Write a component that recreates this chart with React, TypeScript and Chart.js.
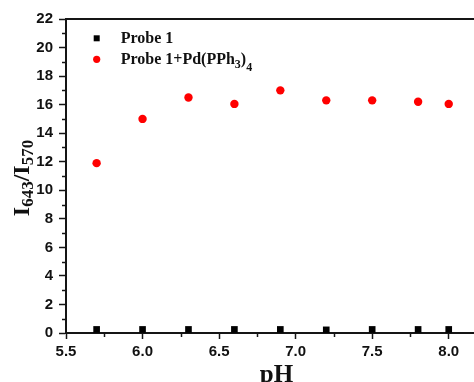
import React, { useEffect, useRef } from 'react';
import { Chart, registerables } from 'chart.js';

Chart.register(...registerables);

// ---- data ----
const phValues = [5.7, 6.0, 6.3, 6.6, 6.9, 7.2, 7.5, 7.8, 8.0];
const probeValues = [0.25, 0.25, 0.25, 0.25, 0.25, 0.22, 0.25, 0.25, 0.25];
const probePdValues = [11.9, 15.0, 16.5, 16.05, 17.0, 16.3, 16.3, 16.2, 16.05];
const seriesLabels = ['Probe 1', 'Probe 1+Pd(PPh_{3})__{4}'];
const seriesColors = ['#000000', '#ff0000'];
const seriesShapes = ['rect', 'circle'];
const xTitle = 'pH';
const yTitle = 'I_{643}/I_{570}';
const xRange = [5.5, 8.25];
const yRange = [0, 22];
const xSteps = [0.5, 0.25];
const ySteps = [2, 1];

type Seg = { t: string; sub: number };

function parseRich(s: string): Seg[] {
  const segs: Seg[] = [];
  const re = /(__?)\{([^}]*)\}/g;
  let last = 0;
  let m: RegExpExecArray | null;
  while ((m = re.exec(s))) {
    if (m.index > last) segs.push({ t: s.slice(last, m.index), sub: 0 });
    segs.push({ t: m[2], sub: m[1].length });
    last = re.lastIndex;
  }
  if (last < s.length) segs.push({ t: s.slice(last), sub: 0 });
  return segs;
}

function drawRich(
  ctx: CanvasRenderingContext2D,
  text: string,
  x: number,
  y: number,
  size: number,
  subSize: number,
  subShift: number,
  align: 'left' | 'center'
) {
  const segs = parseRich(text);
  const fontFor = (s: Seg) => `bold ${s.sub ? subSize : size}px "Liberation Serif", "Times New Roman", serif`;
  let total = 0;
  const widths = segs.map((s) => {
    ctx.font = fontFor(s);
    const w = ctx.measureText(s.t).width;
    total += w;
    return w;
  });
  let cx = align === 'center' ? x - total / 2 : x;
  ctx.textAlign = 'left';
  ctx.textBaseline = 'alphabetic';
  segs.forEach((s, i) => {
    ctx.font = fontFor(s);
    ctx.fillText(s.t, cx, y + s.sub * subShift);
    cx += widths[i];
  });
}

const decorPlugin = {
  id: 'decor',
  afterDraw(chart: any) {
    const { ctx, chartArea } = chart;
    const xs = chart.scales.x;
    const ys = chart.scales.y;
    ctx.save();
    ctx.strokeStyle = '#151515';
    // top frame
    ctx.lineWidth = 2;
    ctx.beginPath();
    ctx.moveTo(chartArea.left - 1, chartArea.top);
    ctx.lineTo(chartArea.right, chartArea.top);
    ctx.stroke();
    // minor ticks
    ctx.lineWidth = 1.5;
    for (let v = yRange[0] + ySteps[1]; v < yRange[1]; v += ySteps[0]) {
      const py = Math.round(ys.getPixelForValue(v)) + 0.5;
      ctx.beginPath();
      ctx.moveTo(chartArea.left - 4, py);
      ctx.lineTo(chartArea.left, py);
      ctx.stroke();
    }
    for (let v = xRange[0] + xSteps[1]; v <= xRange[1] + 1e-9; v += xSteps[0]) {
      const px = Math.round(xs.getPixelForValue(v)) + 0.5;
      ctx.beginPath();
      ctx.moveTo(px, chartArea.bottom);
      ctx.lineTo(px, chartArea.bottom + 4);
      ctx.stroke();
    }
    // legend
    const lx = chartArea.left + 30.7;
    const rowY = [chartArea.top + 19.3, chartArea.top + 40.3];
    const baseY = [chartArea.top + 24.3, chartArea.top + 45];
    seriesLabels.forEach((label, i) => {
      ctx.fillStyle = seriesColors[i];
      if (seriesShapes[i] === 'rect') {
        ctx.fillRect(lx - 3, rowY[i] - 3, 6, 6);
      } else {
        ctx.beginPath();
        ctx.arc(lx, rowY[i], 3.6, 0, Math.PI * 2);
        ctx.fill();
      }
      ctx.fillStyle = '#111';
      drawRich(ctx, label, chartArea.left + 54.7, baseY[i], 16, 12, 3.5, 'left');
    });
    // y title
    ctx.save();
    ctx.translate(29, (chartArea.top + chartArea.bottom) / 2 + 2);
    ctx.rotate(-Math.PI / 2);
    ctx.fillStyle = '#111';
    drawRich(ctx, yTitle, 0, 0, 24, 17, 4, 'center');
    ctx.restore();
    // x title
    ctx.fillStyle = '#111';
    drawRich(ctx, xTitle, (chartArea.left + chartArea.right) / 2, 382, 25, 17, 4, 'center');
    ctx.restore();
  },
};

export default function App() {
  const ref = useRef<HTMLCanvasElement>(null);
  useEffect(() => {
    if (!ref.current) return;
    const tickFont = { family: '"Liberation Sans", Arial, sans-serif', size: 15, weight: 'bold' as const };
    const chart = new Chart(ref.current, {
      type: 'scatter',
      data: {
        datasets: [
          {
            label: seriesLabels[0],
            data: phValues.map((x, i) => ({ x, y: probeValues[i] })),
            backgroundColor: seriesColors[0],
            borderColor: seriesColors[0],
            borderWidth: 0,
            pointStyle: seriesShapes[0] as any,
            pointRadius: 4.7,
          },
          {
            label: seriesLabels[1],
            data: phValues.map((x, i) => ({ x, y: probePdValues[i] })),
            backgroundColor: seriesColors[1],
            borderColor: seriesColors[1],
            borderWidth: 0,
            pointStyle: seriesShapes[1] as any,
            pointRadius: 4.2,
          },
        ],
      },
      options: {
        animation: false,
        responsive: false,
        devicePixelRatio: 1,
        layout: { padding: { top: 19, right: 9, left: 0, bottom: 0 } },
        plugins: { legend: { display: false }, tooltip: { enabled: false } },
        scales: {
          x: {
            type: 'linear',
            min: xRange[0],
            max: xRange[1],
            afterFit: (s: any) => {
              s.height = 49;
            },
            ticks: {
              stepSize: xSteps[0],
              includeBounds: false,
              color: '#111',
              font: tickFont,
              padding: 4,
              maxRotation: 0,
              callback: (v: any) => Number(v).toFixed(1),
            },
            grid: { display: true, drawOnChartArea: false, drawTicks: true, tickLength: 6, tickColor: '#151515', tickWidth: 1.5 },
            border: { display: true, color: '#151515', width: 2 },
          },
          y: {
            type: 'linear',
            min: yRange[0],
            max: yRange[1],
            afterFit: (s: any) => {
              s.width = 66;
            },
            ticks: {
              stepSize: ySteps[0],
              color: '#111',
              font: tickFont,
              padding: 6,
              callback: (v: any) => String(v),
            },
            grid: { display: true, drawOnChartArea: false, drawTicks: true, tickLength: 7, tickColor: '#151515', tickWidth: 1.5 },
            border: { display: true, color: '#151515', width: 2 },
          },
        },
      },
      plugins: [decorPlugin],
    });
    return () => chart.destroy();
  }, []);
  return (
    <div style={{ position: 'fixed', left: 0, top: 0, width: 496, height: 382, background: '#fff' }}>
      <canvas ref={ref} width={496} height={382} style={{ display: 'block', width: 496, height: 382 }} />
    </div>
  );
}
